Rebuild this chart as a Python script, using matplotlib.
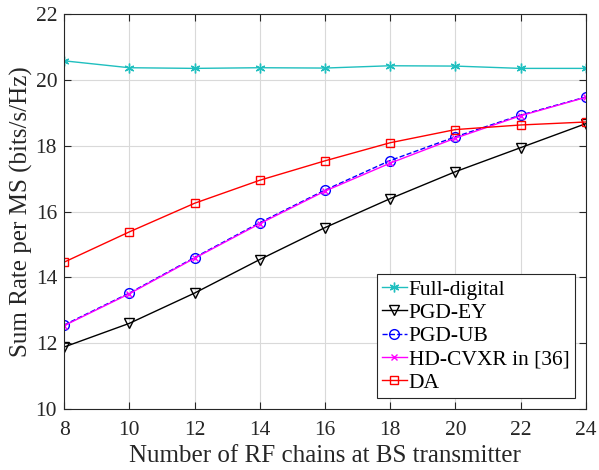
import matplotlib
matplotlib.use("Agg")
import matplotlib.pyplot as plt

# RF chain counts and sum rates (bits/s/Hz) per scheme
rf_chains = [8, 10, 12, 14, 16, 18, 20, 22, 24]
full_digital = [20.58, 20.37, 20.35, 20.37, 20.36, 20.43, 20.42, 20.35, 20.35]
pgd_ey = [11.88, 12.60, 13.52, 14.54, 15.51, 16.39, 17.21, 17.94, 18.67]
pgd_ub = [12.55, 13.52, 14.60, 15.66, 16.65, 17.55, 18.27, 18.93, 19.48]
hd_cvxr = [12.53, 13.50, 14.58, 15.63, 16.62, 17.47, 18.23, 18.91, 19.47]
da = [14.46, 15.38, 16.25, 16.95, 17.54, 18.09, 18.49, 18.63, 18.72]

plt.rcParams['font.family'] = ['Liberation Serif', 'DejaVu Serif']
plt.rcParams['mathtext.fontset'] = 'stix'

fig = plt.figure(figsize=(5.99, 4.70), dpi=100)
ax = fig.add_axes([0.107, 0.130, 0.871, 0.840])

ax.plot(rf_chains, full_digital, color='#1fbfbf', marker=(6, 2, 0),
        markersize=7, markeredgewidth=1.0, linewidth=1.0, label='Full-digital')
ax.plot(rf_chains, pgd_ey, color='black', marker='v', markersize=7,
        markerfacecolor='none', linewidth=1.0, label='PGD-EY')
ax.plot(rf_chains, pgd_ub, color='blue', marker='o', markersize=7,
        markerfacecolor='none', linestyle='--', linewidth=1.0, label='PGD-UB')
ax.plot(rf_chains, hd_cvxr, color='magenta', marker='x', markersize=5,
        linewidth=1.0, label='HD-CVXR in [36]')
ax.plot(rf_chains, da, color='red', marker='s', markersize=6,
        markerfacecolor='none', linewidth=1.0, label='DA')

ax.set_xlim(8, 24)
ax.set_ylim(10, 22)
ax.set_xticks(range(8, 25, 2))
ax.set_yticks(range(10, 23, 2))
ax.tick_params(direction='in', top=True, right=True, labelsize=15.5,
               length=5, width=0.8, colors='#262626')
ax.tick_params(axis='x', pad=9)
ax.tick_params(axis='y', pad=5)
ax.grid(True, color='#d9d9d9', linewidth=0.8)
for s in ax.spines.values():
    s.set_color('#262626')
    s.set_linewidth(0.8)

ax.set_xlabel('Number of RF chains at BS transmitter', fontsize=18,
              color='#262626', labelpad=3)
ax.set_ylabel('Sum Rate per MS (bits/s/Hz)', fontsize=18,
              color='#262626', labelpad=2)

leg = ax.legend(loc='lower right', fontsize=15.5, fancybox=False,
                framealpha=1, edgecolor='#262626', handlelength=1.15,
                handletextpad=0.1, borderpad=0.25, labelspacing=0.15,
                borderaxespad=0.5)
leg.get_frame().set_linewidth(0.8)

fig.savefig('out.png', dpi=100)
